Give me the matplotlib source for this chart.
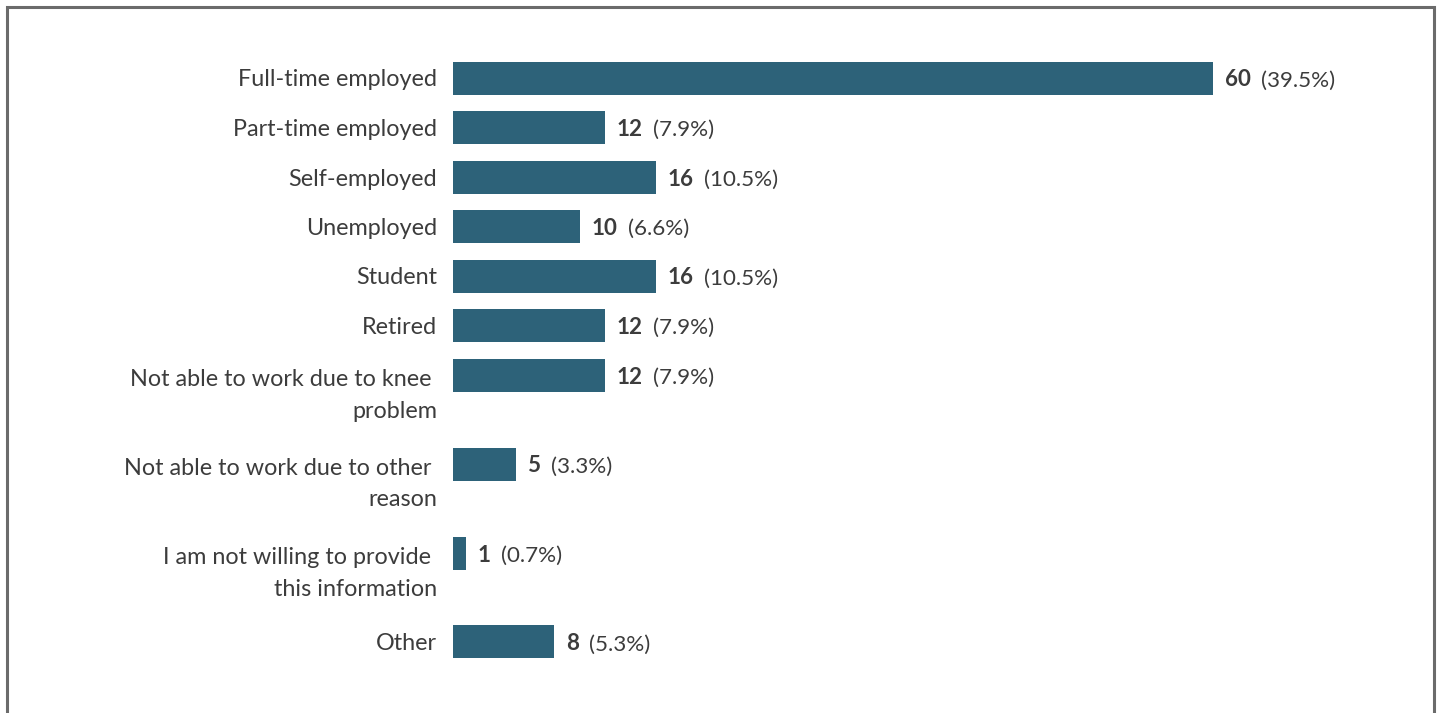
import numpy as np
import matplotlib.pyplot as plt
from matplotlib.patches import Rectangle

plt.rcParams['font.family'] = ['Lato', 'DejaVu Sans']

# ── data ──────────────────────────────────────────────────────────────────────
labels = [
    "Full-time employed",
    "Part-time employed",
    "Self-employed",
    "Unemployed",
    "Student",
    "Retired",
    "Not able to work due to knee \nproblem",
    "Not able to work due to other \nreason",
    "I am not willing to provide \nthis information",
    "Other",
]
counts = [60, 12, 16, 10, 16, 12, 12, 5, 1, 8]

# ── layout (pixels) ───────────────────────────────────────────────────────────
W, H = 1441, 713
row_px, extra_line_px = 49.5, 39.5
first_center = 78
bar_px = 33
x0_px, x60_px = 453, 1213
line_px = 34          # distance between wrapped label lines
base_off = 8.5        # baseline below bar centre

bar_color = "#2d6279"
text_color = "#3c3c3c"
fs_lab, fs_val = 16.8, 16.1

total = sum(counts)
n_lines = [lab.count("\n") + 1 for lab in labels]
y = [0.0]
for nl in n_lines[:-1]:
    y.append(y[-1] + 1 + (nl - 1) * extra_line_px / row_px)
y = np.array(y)

fig = plt.figure(figsize=(W / 100, H / 100), dpi=100)
ax = fig.add_axes([x0_px / W, 0, (x60_px - x0_px) / W, 1])
ax.set_xlim(0, max(counts))
ax.set_ylim((H - first_center) / row_px, -first_center / row_px)
ax.axis("off")

ax.barh(y, counts, height=bar_px / row_px, color=bar_color)

for yi, lab, c, nl in zip(y, labels, counts, n_lines):
    ax.annotate(lab, xy=(0, yi), xytext=(-16, -base_off - (nl - 1) * line_px),
                textcoords="offset pixels", ha="right", va="baseline",
                fontsize=fs_lab, color=text_color, linespacing=1.62)
    t = ax.annotate(str(c), xy=(c, yi), xytext=(12, -base_off), textcoords="offset pixels",
                    ha="left", va="baseline", fontsize=fs_val, color=text_color,
                    fontweight="bold")
    ax.annotate(f"({100 * c / total:.1f}%)", xy=(1, 0), xycoords=t,
                xytext=(10, 0), textcoords="offset pixels",
                ha="left", va="bottom", fontsize=fs_val, color=text_color)

# frame around the chart (bottom edge cut off)
fig.patches.append(Rectangle((7 / W, -0.05), (W - 14) / W, 1.05 - 7 / H,
                             transform=fig.transFigure, fill=False,
                             edgecolor="#6b6b6b", linewidth=2.2))

fig.savefig("out.png", dpi=100)
